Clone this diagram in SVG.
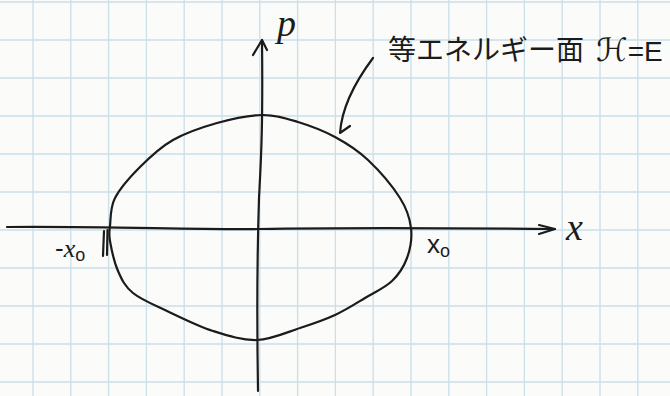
<svg xmlns="http://www.w3.org/2000/svg" width="670" height="396" viewBox="0 0 670 396">
<style>
.grid{stroke:#c9dfea;stroke-width:1.3;fill:none}
.ink{stroke:#1b1b1b;stroke-width:2.2;fill:none;stroke-linecap:round;stroke-linejoin:round}
.hand{fill:#1b1b1b;font-family:"Liberation Serif","DejaVu Serif",serif;font-style:italic}
.jp{fill:#1b1b1b;font-family:"Noto Sans CJK JP","DejaVu Sans",sans-serif}
</style>
<rect width="670" height="396" fill="#fbfbfa"/>
<g id="grid" class="grid">
<path d="M33,0V396M70.8,0V396M108.6,0V396M146.4,0V396M184.2,0V396M222,0V396M259.8,0V396M297.6,0V396M335.4,0V396M373.2,0V396M411,0V396M448.8,0V396M486.6,0V396M524.4,0V396M562.2,0V396M600,0V396M637.8,0V396"/>
<path d="M0,2H670M0,40H670M0,78H670M0,116H670M0,154H670M0,192H670M0,230H670M0,268H670M0,306H670M0,344H670M0,382H670"/>
</g>
<g id="connectors">
<g id="x-axis"><path class="ink" d="M7,227 C100,226 200,230 258,229 S450,228 555,229"/><path class="ink" d="M539,225 L555,229 L539,234"/></g>
<g id="p-axis"><path class="ink" d="M258,391 C257,330 257,260 259,198 C261,160 263,130 262,40"/><path class="ink" d="M253,55 L262,40 L267,50"/></g>
<g id="pointer"><path class="ink" d="M373,58 C358,78 342,105 340,133 L350,126"/></g>
</g>
<g id="curve">
<path class="ink" d="M110,226 C110.8,218.8 110,207.8 115,198 C120,188.2 130.3,176.7 140,167 C149.7,157.3 160.2,147.3 173,140 C185.8,132.7 202.2,127.2 217,123 C231.8,118.8 248.5,115.2 262,115 C275.5,114.8 285.8,118.3 298,122 C310.2,125.7 323.3,130.7 335,137 C346.7,143.3 357.2,149.8 368,160 C378.8,170.2 392.8,186.7 400,198 C407.2,209.3 409.8,218 411,228 C412.2,238 410.2,249.2 407,258 C403.8,266.8 399,274.3 392,281 C385,287.7 374.5,292.3 365,298 C355.5,303.7 345.8,310 335,315 C324.2,320 313,323.8 300,328 C287,332.2 271.5,339.5 257,340 C242.5,340.5 228,335.8 213,331 C198,326.2 180.3,317.3 167,311 C153.7,304.7 141.2,299.7 133,293 C124.8,286.3 121.8,279.7 118,271 C114.2,262.3 111.3,248.5 110,241 C108.7,233.5 109.2,233.2 110,226 Z"/>
<path class="ink" d="M104,231 L103,256 M107.5,230 L107,255" stroke-width="1.6"/>
</g>
<g id="labels">
<text class="hand" x="277" y="36" font-size="38">p</text>
<text class="hand" x="566" y="240" font-size="38">x</text>
<text x="427" y="253" font-size="26" fill="#1b1b1b" font-family="Liberation Sans, sans-serif">x<tspan font-size="18" dy="4">o</tspan></text>
<text x="55" y="257" font-size="26" fill="#1b1b1b" font-family="Liberation Sans, sans-serif">-<tspan class="hand" font-size="26">x</tspan><tspan font-size="18" dy="4">o</tspan></text>
<text class="jp" x="388" y="60" font-size="28">等エネルギー面</text>
<text x="596" y="61" font-size="32" fill="#1b1b1b" font-family="DejaVu Serif, DejaVu Sans, serif">ℋ<tspan font-family="Liberation Sans, sans-serif" font-size="28">=E</tspan></text>
</g>
</svg>
